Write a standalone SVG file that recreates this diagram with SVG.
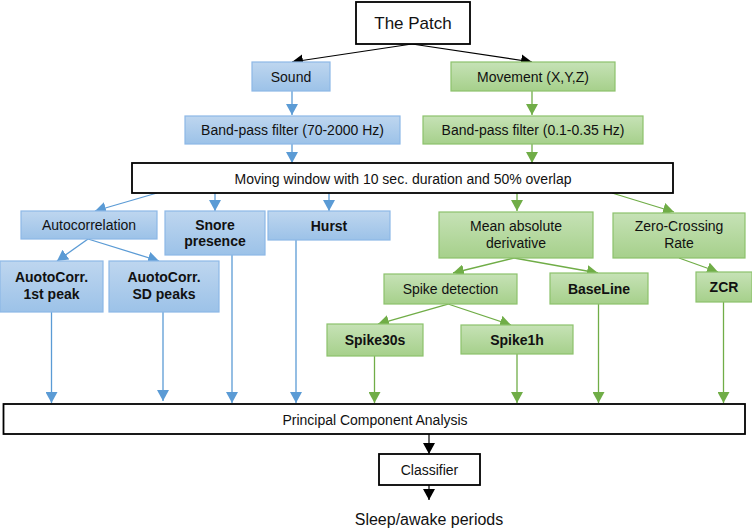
<svg xmlns="http://www.w3.org/2000/svg" width="752" height="529" viewBox="0 0 752 529">
<defs>
<linearGradient id="gb" x1="0" y1="0" x2="0" y2="1"><stop offset="0" stop-color="#bed6ef"/><stop offset="1" stop-color="#9cc2e8"/></linearGradient>
<linearGradient id="gg" x1="0" y1="0" x2="0" y2="1"><stop offset="0" stop-color="#c6e2b6"/><stop offset="1" stop-color="#a6d08b"/></linearGradient>
<marker id="ab" viewBox="0 0 11 12" markerWidth="11" markerHeight="12" refX="11" refY="6" orient="auto" markerUnits="userSpaceOnUse"><path d="M0,0 L11,6 L0,12 z" fill="#5b9bd5"/></marker>
<marker id="ag" viewBox="0 0 11 12" markerWidth="11" markerHeight="12" refX="11" refY="6" orient="auto" markerUnits="userSpaceOnUse"><path d="M0,0 L11,6 L0,12 z" fill="#70ad47"/></marker>
<marker id="ak" viewBox="0 0 11 12" markerWidth="11" markerHeight="12" refX="11" refY="6" orient="auto" markerUnits="userSpaceOnUse"><path d="M0,0 L11,6 L0,12 z" fill="#000"/></marker>
</defs>
<style>
text{font-family:"Liberation Sans",Arial,sans-serif;font-size:14px;fill:#111;text-anchor:middle}
.b{font-weight:bold}
.blue{fill:url(#gb);stroke:#8db8e6;stroke-width:1.2}
.green{fill:url(#gg);stroke:#8cc26c;stroke-width:1.2}
.wh{fill:#fff;stroke:#000;stroke-width:1.8}
.lb{stroke:#5b9bd5;stroke-width:1.3;fill:none;marker-end:url(#ab)}
.lg{stroke:#70ad47;stroke-width:1.3;fill:none;marker-end:url(#ag)}
.lk{stroke:#000;stroke-width:1.2;fill:none;marker-end:url(#ak)}
</style>
<g id="connectors">
<line class="lk" x1="412" y1="44" x2="292" y2="62"/>
<line class="lk" x1="412" y1="44" x2="532" y2="62"/>
<line class="lb" x1="292" y1="91" x2="292" y2="115"/>
<line class="lb" x1="292" y1="144" x2="292" y2="163"/>
<line class="lg" x1="532" y1="91" x2="532" y2="115"/>
<line class="lg" x1="532" y1="144" x2="532" y2="163"/>
<line class="lb" x1="157" y1="193" x2="95" y2="211"/>
<line class="lb" x1="215" y1="193" x2="215" y2="211"/>
<line class="lb" x1="329" y1="193" x2="329" y2="211"/>
<line class="lg" x1="517" y1="193" x2="517" y2="211"/>
<line class="lg" x1="612" y1="193" x2="674" y2="212"/>
<line class="lb" x1="88" y1="239" x2="57" y2="261"/>
<line class="lb" x1="88" y1="239" x2="159" y2="261"/>
<line class="lg" x1="514" y1="258" x2="453" y2="273"/>
<line class="lg" x1="514" y1="258" x2="598" y2="273"/>
<line class="lg" x1="679" y1="258" x2="718" y2="272"/>
<line class="lg" x1="448" y1="304" x2="378" y2="324"/>
<line class="lg" x1="448" y1="304" x2="511" y2="325"/>
<line class="lb" x1="51.5" y1="312" x2="51.5" y2="403"/>
<line class="lb" x1="163" y1="312" x2="163" y2="401"/>
<line class="lb" x1="232" y1="255" x2="232" y2="403"/>
<line class="lb" x1="296" y1="240" x2="296" y2="403"/>
<line class="lg" x1="374.5" y1="356" x2="374.5" y2="403"/>
<line class="lg" x1="517" y1="354" x2="517" y2="403"/>
<line class="lg" x1="598.5" y1="304" x2="598.5" y2="403"/>
<line class="lg" x1="723.5" y1="302" x2="723.5" y2="403"/>
<line class="lk" x1="429" y1="434" x2="429" y2="454"/>
<line class="lk" x1="429" y1="485" x2="429" y2="500"/>
</g>
<g id="patch"><rect class="wh" x="356" y="2" width="114" height="42"/><text x="413" y="29" style="font-size:17px">The Patch</text></g>
<g id="sound"><rect class="blue" x="252" y="62" width="78" height="29"/><text x="291" y="82">Sound</text></g>
<g id="movement"><rect class="green" x="451" y="62" width="164" height="29"/><text x="533" y="82">Movement (X,Y,Z)</text></g>
<g id="bp-sound"><rect class="blue" x="185" y="116" width="215" height="28"/><text x="292.5" y="135">Band-pass filter (70-2000 Hz)</text></g>
<g id="bp-move"><rect class="green" x="423" y="116" width="220" height="28"/><text x="533" y="135">Band-pass filter (0.1-0.35 Hz)</text></g>
<g id="window"><rect class="wh" x="132" y="163" width="541" height="30"/><text x="403" y="183.5">Moving window with 10 sec. duration and 50% overlap</text></g>
<g id="autocorr"><rect class="blue" x="21" y="211" width="136" height="28"/><text x="89" y="230">Autocorrelation</text></g>
<g id="snore"><rect class="blue" x="165" y="211" width="100" height="44"/><text class="b" x="215" y="230">Snore</text><text class="b" x="215" y="246">presence</text></g>
<g id="hurst"><rect class="blue" x="268" y="211" width="122" height="29"/><text class="b" x="329" y="230.5">Hurst</text></g>
<g id="mad"><rect class="green" x="439" y="212" width="154" height="46"/><text x="516" y="231">Mean absolute</text><text x="516" y="247.5">derivative</text></g>
<g id="zcr-rate"><rect class="green" x="613" y="213" width="132" height="45"/><text x="679" y="231">Zero-Crossing</text><text x="679" y="247.5">Rate</text></g>
<g id="ac1"><rect class="blue" x="0" y="261" width="103" height="51"/><text class="b" x="51.5" y="282">AuotoCorr.</text><text class="b" x="51.5" y="298.5">1st peak</text></g>
<g id="acsd"><rect class="blue" x="109" y="261" width="110" height="51"/><text class="b" x="164" y="282">AuotoCorr.</text><text class="b" x="164" y="298.5">SD peaks</text></g>
<g id="spikedet"><rect class="green" x="384" y="274" width="133" height="30"/><text x="450.5" y="294">Spike detection</text></g>
<g id="baseline"><rect class="green" x="550" y="273" width="98" height="31"/><text class="b" x="599" y="293.5">BaseLine</text></g>
<g id="zcr"><rect class="green" x="696" y="272" width="56" height="30"/><text class="b" x="724" y="292">ZCR</text></g>
<g id="spike30s"><rect class="green" x="327" y="324" width="96" height="32"/><text class="b" x="375" y="345">Spike30s</text></g>
<g id="spike1h"><rect class="green" x="461" y="325" width="112" height="29"/><text class="b" x="517" y="344.5">Spike1h</text></g>
<g id="pca"><rect class="wh" x="3.5" y="404" width="741.5" height="30"/><text x="375" y="424.5">Principal Component Analysis</text></g>
<g id="classifier"><rect class="wh" x="379" y="454" width="101" height="31"/><text x="429.5" y="475">Classifier</text></g>
<g id="output"><text x="429" y="525" style="font-size:16px">Sleep/awake periods</text></g>
</svg>
